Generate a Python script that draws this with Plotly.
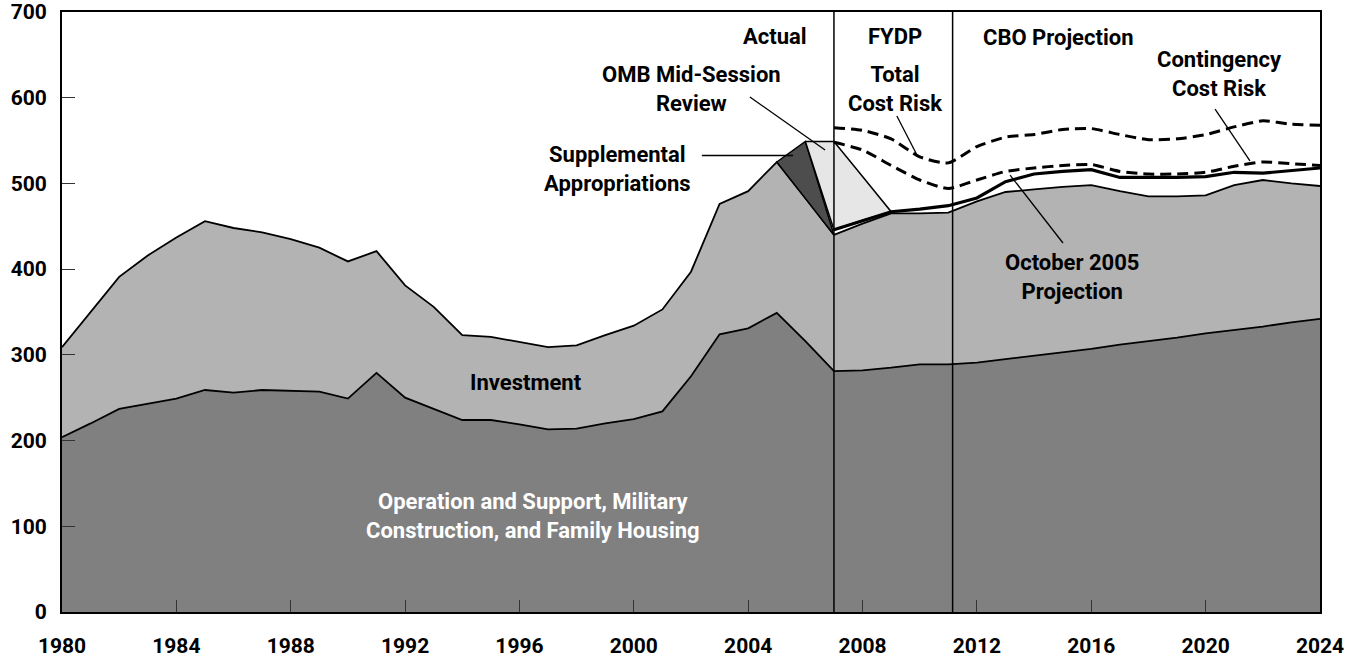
import plotly.graph_objects as go

# ---- data (billions of dollars) ----
years = list(range(1980, 2025))
om = [204, 220, 237, 243, 249, 259, 256, 259, 258, 257,
      249, 279, 250, 237, 224, 224, 219, 213, 214, 220,
      225, 234, 275, 324, 331, 349, 316, 281, 282, 285,
      289, 289, 291, 295, 299, 303, 307, 312, 316, 320,
      325, 329, 333, 338, 342]
total = [309, 350, 391, 416, 437, 456, 448, 443, 435, 425,
         409, 421, 381, 356, 323, 321, 315, 309, 311, 323,
         334, 353, 397, 476, 491, 525, 483, 440, 453, 465,
         465, 466, 479, 490, 493, 496, 498, 491, 485, 485,
         486, 498, 504, 500, 497]

supp_years = [2005, 2006, 2007]
supp_top = [525, 549, 440]

omb_years = [2006, 2007, 2008, 2009]
omb_top = [549, 549, 508, 467]

proj_years = list(range(2007, 2025))
oct2005 = [446, 457, 467, 470, 474, 483, 502, 511, 514, 516,
           507, 507, 507, 508, 513, 512, 515, 518]
risk_upper = [565, 562, 552, 531, 524, 543, 554, 557, 563, 564,
              557, 551, 552, 557, 566, 573, 569, 568]
risk_lower = [548, 539, 521, 504, 494, 504, 514, 518, 521, 522,
              514, 511, 511, 513, 520, 525, 523, 521]

x_ticks = list(range(1980, 2025, 4))
y_ticks = list(range(0, 701, 100))
period_breaks = [2007, 2011.15]

FONT = "Roboto, Lato, 'Liberation Sans', sans-serif"

fig = go.Figure()

# Operation and support area
fig.add_trace(go.Scatter(x=years, y=om, mode="lines", fill="tozeroy",
                         fillcolor="#808080", line=dict(color="black", width=1.8),
                         hoverinfo="skip", showlegend=False))
# Investment area
fig.add_trace(go.Scatter(x=years, y=total, mode="lines", fill="tonexty",
                         fillcolor="#b3b3b3", line=dict(color="black", width=1.8),
                         hoverinfo="skip", showlegend=False))

# Supplemental appropriations (dark triangle)
i05 = years.index(2005)
i06 = years.index(2006)
sx = supp_years + [2006, 2005]
sy = supp_top + [total[i06], total[i05]]
fig.add_trace(go.Scatter(x=sx, y=sy, mode="lines", fill="toself",
                         fillcolor="#4d4d4d", line=dict(color="black", width=1.5),
                         hoverinfo="skip", showlegend=False))

# OMB mid-session review (light region)
ox = omb_years + proj_years[:2][::-1] + [omb_years[0]]
oy = omb_top + oct2005[:2][::-1] + [supp_top[1]]
fig.add_trace(go.Scatter(x=ox, y=oy, mode="lines", fill="toself",
                         fillcolor="#e6e6e6", line=dict(color="black", width=1.5),
                         hoverinfo="skip", showlegend=False))

# October 2005 projection
fig.add_trace(go.Scatter(x=proj_years, y=oct2005, mode="lines",
                         line=dict(color="black", width=3.2),
                         hoverinfo="skip", showlegend=False))
# Cost risk lines
for arr in (risk_upper, risk_lower):
    fig.add_trace(go.Scatter(x=proj_years, y=arr, mode="lines",
                             line=dict(color="black", width=3, dash="11px,6px",
                                       shape="spline", smoothing=0.6),
                             hoverinfo="skip", showlegend=False))

shapes = []
for b in period_breaks:
    shapes.append(dict(type="line", xref="x", yref="y", x0=b, x1=b, y0=0, y1=700,
                       line=dict(color="black", width=1.5), layer="above"))

pointers = [
    (2002.38, 532.6, 2005.57, 532.6),
    (2004.06, 600.8, 2006.69, 539.0),
    (2009.20, 578.7, 2009.94, 530.8),
    (2020.33, 586.8, 2021.55, 526.2),
    (2015.01, 430.5, 2013.16, 509.8),
]
for x0, y0, x1, y1 in pointers:
    shapes.append(dict(type="line", xref="x", yref="y", x0=x0, y0=y0, x1=x1, y1=y1,
                       line=dict(color="black", width=1.3), layer="above"))

labels = [
    ("Actual", 2004.94, 672, "black"),
    ("OMB Mid-Session<br>Review", 2002.03, 610, "black"),
    ("Supplemental<br>Appropriations", 1999.42, 517.4, "black"),
    ("FYDP", 2009.13, 672, "black"),
    ("Total<br>Cost Risk", 2009.13, 610, "black"),
    ("CBO Projection", 2014.84, 670.8, "black"),
    ("Contingency<br>Cost Risk", 2020.47, 627.7, "black"),
    ("October 2005<br>Projection", 2015.33, 390.3, "black"),
    ("Investment", 1996.23, 268.3, "black"),
    ("Operation and Support, Military<br>Construction, and Family Housing", 1996.47, 112, "white"),
]
annotations = []
for text, x, y, col in labels:
    annotations.append(dict(text=text, x=x, y=y, xref="x", yref="y", showarrow=False,
                            xanchor="center", yanchor="middle", align="center",
                            font=dict(family=FONT, size=22, color=col, weight="bold")))

fig.update_layout(
    width=1357, height=659,
    margin=dict(l=62, r=37, t=12, b=47, autoexpand=False),
    paper_bgcolor="white", plot_bgcolor="white",
    shapes=shapes, annotations=annotations,
    font=dict(family=FONT, size=22, color="black", weight="bold"),
    xaxis=dict(range=[1980, 2024], tickvals=x_ticks, ticks="inside", ticklen=12,
               tickwidth=1, tickcolor="#333333", showline=True, linewidth=2,
               linecolor="black", mirror=True, showgrid=False, zeroline=False,
               automargin=False, ticklabelstandoff=14,
               tickfont=dict(family=FONT, size=21, weight="bold", color="black")),
    yaxis=dict(range=[0, 700], tickvals=y_ticks, ticks="inside", ticklen=13,
               tickwidth=1, tickcolor="#333333", showline=True, linewidth=2,
               linecolor="black", mirror=True, showgrid=False, zeroline=False,
               automargin=False, ticklabelstandoff=9,
               tickfont=dict(family=FONT, size=21, weight="bold", color="black")),
)

fig.write_html(
    "out.html",
    config={"displayModeBar": False, "responsive": False},
    post_script=("document.body.style.margin='0';"
                 "document.body.style.padding='0';"
                 "document.documentElement.style.overflow='hidden';"),
)
